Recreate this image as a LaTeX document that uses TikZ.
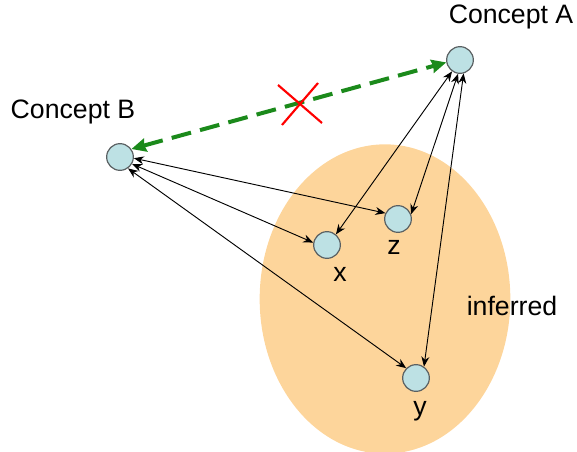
\documentclass[tikz,border=0pt]{standalone}
\usepackage{fontspec}
\setmainfont{Liberation Sans}
\usepackage{xcolor}
\usetikzlibrary{calc,arrows.meta}
\definecolor{peach}{HTML}{FDD59B}
\definecolor{pale}{HTML}{BDE1E4}
\definecolor{rim}{HTML}{5A6062}
\definecolor{dgreen}{HTML}{1B8A1B}
\begin{document}
\begin{tikzpicture}[x=0.75pt, y=-0.75pt, >={Stealth[length=7.5pt,width=6pt]},
  every node/.style={font=\fontsize{20}{24}\selectfont},
  concept/.style={circle, draw=rim, line width=0.9pt, fill=pale, minimum size=20pt, inner sep=0pt},
  link/.style={<->, line width=0.7pt}]
  \useasboundingbox (0,0) rectangle (577,452);
  \fill[peach] (385,299) ellipse [x radius=94pt, y radius=116pt];
  \node[concept] (A) at (460,60) {};
  \node[concept] (B) at (120,157) {};
  \node[concept] (z) at (398,219) {};
  \node[concept] (x) at (327,245) {};
  \node[concept] (y) at (416,378) {};
  \node (labA) at (511,17) {Concept A};
  \node (labB) at (73,112) {Concept B};
  \node (labz) at (394,247) {z};
  \node (labx) at (340,274) {x};
  \node (laby) at (420,411) {y};
  \node (inf) at (512,306) {inferred};
  \draw[link] (B.-5) -- (z.155);
  \draw[link] (B.-30) -- (x.170);
  \draw[link] (B.-55) -- (y.135);
  \draw[link] (A.235) -- (x.50);
  \draw[link] (A.262) -- (z.20);
  \draw[link] (A.285) -- (y.55);
  \draw[{Stealth[length=11pt,width=10pt,inset=1pt]}-{Stealth[length=11pt,width=10pt,inset=1pt]},
    dgreen, line width=3pt, dash pattern=on 15pt off 7pt] (B.35) -- (A.190);
  \coordinate (cross) at (300,104);
  \draw[red, line width=1.6pt] ($(cross)+(-22,-19)$) -- ($(cross)+(22,19)$)
    ($(cross)+(18,-21)$) -- ($(cross)+(-18,21)$);
\end{tikzpicture}
\end{document}
